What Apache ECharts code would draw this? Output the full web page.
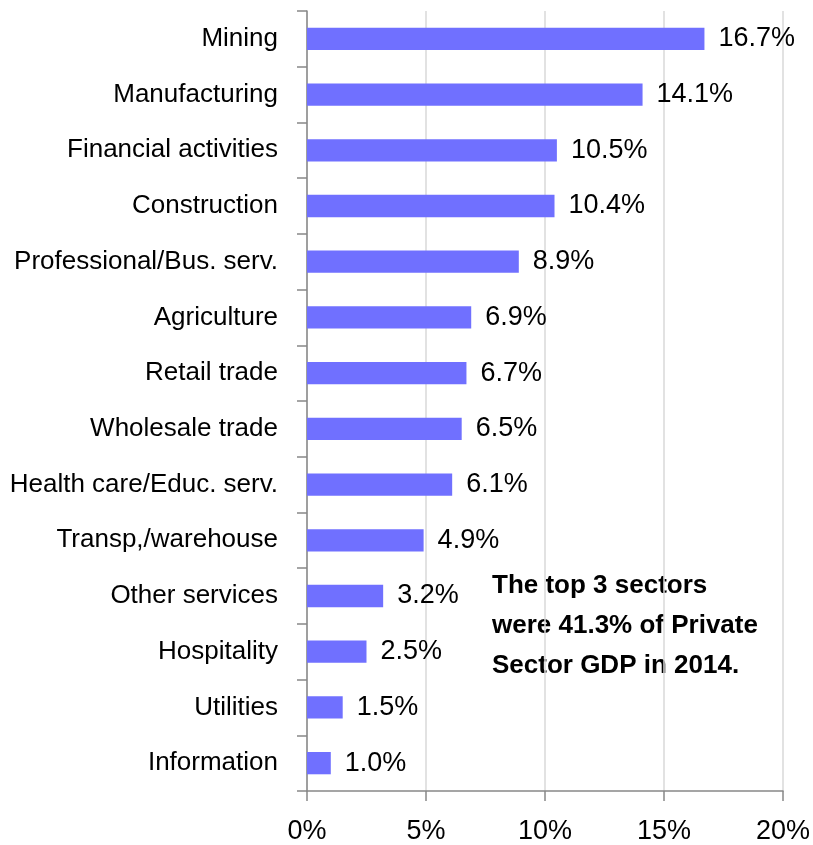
<!DOCTYPE html>
<html>
<head>
<meta charset="utf-8">
<script src="https://cdn.jsdelivr.net/npm/echarts@6/dist/echarts.min.js"></script>
<style>html,body{margin:0;padding:0;background:#fff}#c{width:813px;height:845px}</style>
</head>
<body>
<div id="c"></div>
<script>
var categories = ["Mining","Manufacturing","Financial activities","Construction","Professional/Bus. serv.","Agriculture","Retail trade","Wholesale trade","Health care/Educ. serv.","Transp,/warehouse","Other services","Hospitality","Utilities","Information"];
var shares = [16.7,14.1,10.5,10.4,8.9,6.9,6.7,6.5,6.1,4.9,3.2,2.5,1.5,1.0];
var xTicks = [0,5,10,15,20];
var note = ["The top 3 sectors","were 41.3% of Private","Sector GDP in 2014."];

var FONT = "'Liberation Sans',Arial,sans-serif";
var chart = echarts.init(document.getElementById('c'));
chart.setOption({
  animation: false,
  grid: {left: 307, right: 30, top: 11, bottom: 54},
  xAxis: {
    type: 'value', min: xTicks[0], max: xTicks[xTicks.length-1], interval: 5,
    axisLine: {show: true, lineStyle: {color: '#888', width: 1.5}},
    axisTick: {show: true, length: 10, lineStyle: {color: '#888', width: 1.5}},
    axisLabel: {formatter: '{value}%', fontFamily: FONT, fontSize: 27, color: '#000', margin: 27},
    splitLine: {show: true, lineStyle: {color: '#d9d9d9', width: 1.5}}
  },
  yAxis: {
    type: 'category', data: categories, inverse: true,
    axisLine: {show: true, lineStyle: {color: '#888', width: 1.5}},
    axisTick: {show: true, length: 10, lineStyle: {color: '#888', width: 1.5}},
    axisLabel: {fontFamily: FONT, fontSize: 26, color: '#000', margin: 29, padding: [5, 0, 0, 0]}
  },
  series: [{
    type: 'bar', data: shares, barCategoryGap: '60%',
    itemStyle: {color: '#7070ff'},
    label: {show: true, position: 'right', distance: 14, fontFamily: FONT, fontSize: 27, color: '#000',
      padding: [5, 0, 0, 0],
      formatter: function(p){ return p.value.toFixed(1) + '%'; }}
  }],
  graphic: [{
    type: 'text', left: 492, top: 566,
    style: {text: note.join('\n'), fontFamily: FONT, fontSize: 26, fontWeight: 'bold', fill: '#000', lineHeight: 40}
  }]
});
</script>
</body>
</html>
